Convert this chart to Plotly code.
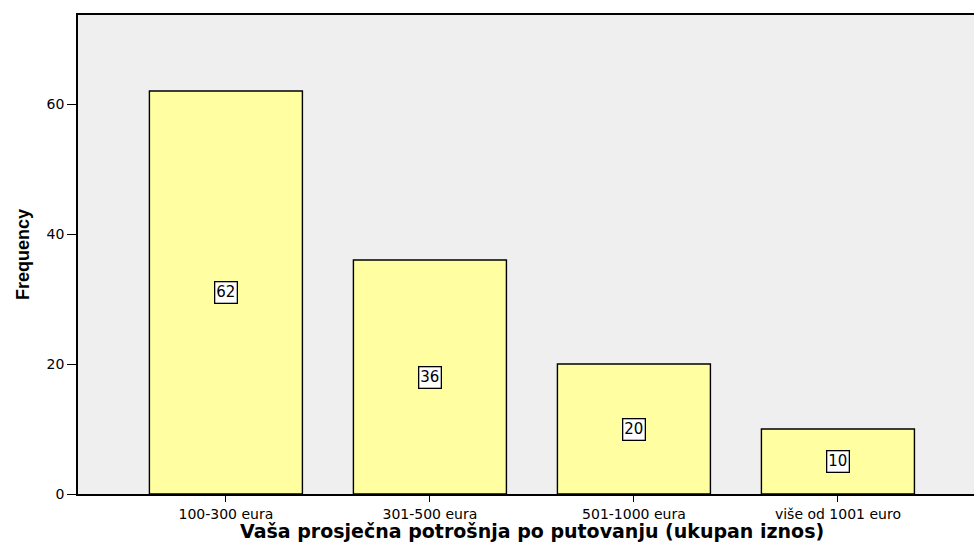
import plotly.graph_objects as go

categories = ["100-300 eura", "301-500 eura", "501-1000 eura", "više od 1001 euro"]
frequency = [62, 36, 20, 10]
y_ticks = [0, 20, 40, 60]

fig = go.Figure()
fig.add_trace(go.Bar(
    x=categories,
    y=frequency,
    width=0.75,
    marker=dict(color="#FFFFA2", line=dict(color="black", width=1.4)),
    hoverinfo="x+y",
))

# value labels in small boxes at the middle of each bar
for cat, val in zip(categories, frequency):
    fig.add_annotation(
        x=cat, y=val / 2, text=str(val), showarrow=False,
        font=dict(family="DejaVu Sans", size=15, color="black"),
        bgcolor="white", bordercolor="black", borderwidth=1.3, borderpad=1,
    )

# x-axis title placed as an annotation so it sits below the tick labels
fig.add_annotation(
    xref="paper", yref="paper", x=0.507, y=-0.077, yanchor="middle",
    text="<b>Vaša prosječna potrošnja po putovanju (ukupan iznos)</b>",
    showarrow=False, font=dict(family="DejaVu Sans", size=19, color="black"),
)

fig.update_layout(
    width=974, height=545,
    margin=dict(l=78, r=0, t=15, b=51),
    paper_bgcolor="white",
    plot_bgcolor="#EFEFEF",
    showlegend=False,
    bargap=0.25,
    xaxis=dict(
        range=[-0.725, 3.667],
        showline=True, linecolor="black", linewidth=1.5, mirror=True,
        ticks="outside", ticklen=6, tickcolor="black",
        tickfont=dict(family="DejaVu Sans", size=14, color="black"),
        showgrid=False, fixedrange=True,
    ),
    yaxis=dict(
        range=[0, 73.7],
        tickvals=y_ticks,
        showline=True, linecolor="black", linewidth=1.5,
        ticks="outside", ticklen=9, tickcolor="black",
        tickfont=dict(family="DejaVu Sans", size=14, color="black"),
        title=dict(text="<b>Frequency</b>",
                   font=dict(family="Liberation Sans", size=18, color="black"),
                   standoff=12),
        showgrid=False, zeroline=False, fixedrange=True,
    ),
)

fig.write_html("out.html", config={"displayModeBar": False},
               post_script="document.body.style.margin='0';")
